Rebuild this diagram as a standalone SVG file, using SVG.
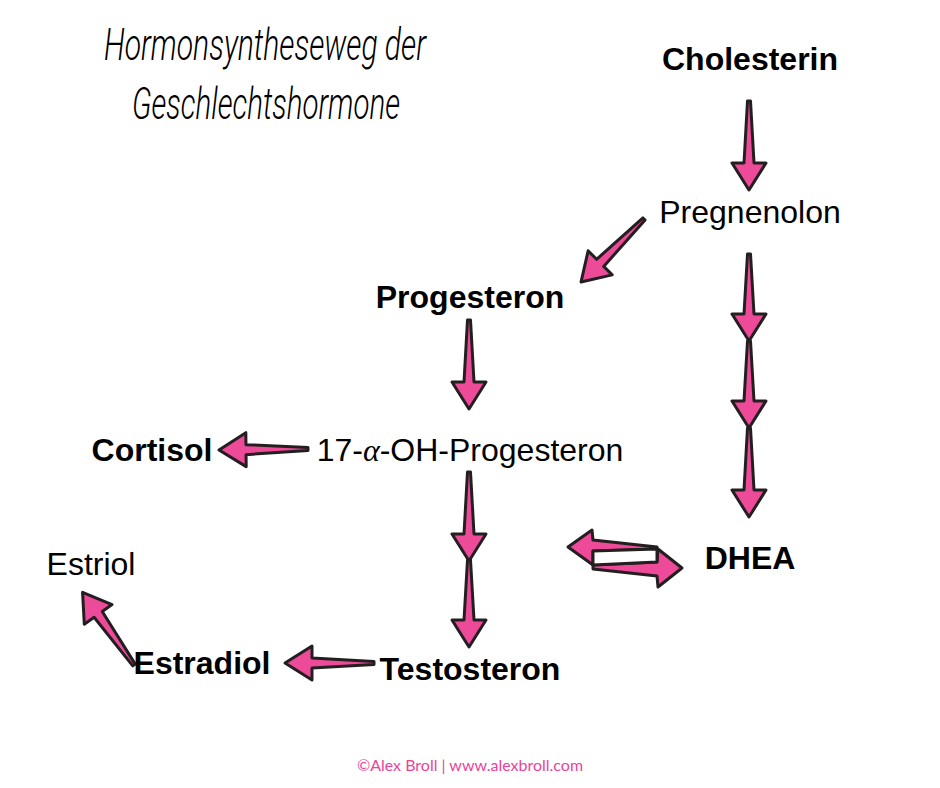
<svg xmlns="http://www.w3.org/2000/svg" width="940" height="788" viewBox="0 0 940 788">
<style>
.arr{fill:#ee4a9a;stroke:#231f20;stroke-width:3;stroke-linejoin:round;stroke-linecap:round}
.t{font-family:"Liberation Sans",Arial,sans-serif;font-size:32px;fill:#000;text-anchor:middle}
.b{font-weight:bold}
.title{font-family:Roboto,"DejaVu Sans",sans-serif;font-style:italic;font-weight:300;font-size:45px;fill:#000}
.foot{font-family:Lato,"Liberation Sans",sans-serif;font-size:16px;fill:#e8449a;text-anchor:middle}
</style>
<defs>
<path id="a89" d="M0,-1.5 L62,-5 L62,-17 L89,0 L62,17 L62,5 L0,1.5 Z"/>
<path id="a87" d="M0,-1.5 L60,-5 L60,-17 L87,0 L60,17 L60,5 L0,1.5 Z"/>
</defs>
<rect width="940" height="788" fill="#fff"/>
<g id="title">
<text class="title" x="104" y="60" textLength="322" lengthAdjust="spacingAndGlyphs">Hormonsyntheseweg der</text>
<text class="title" x="132" y="119" textLength="268" lengthAdjust="spacingAndGlyphs">Geschlechtshormone</text>
</g>
<g id="connectors">
<use href="#a89" class="arr" transform="translate(749,101) rotate(90)"/>
<use href="#a89" class="arr" transform="translate(644,219) rotate(135)"/>
<use href="#a87" class="arr" transform="translate(749,254) rotate(90)"/>
<use href="#a87" class="arr" transform="translate(749,341) rotate(90)"/>
<use href="#a89" class="arr" transform="translate(749,428) rotate(90)"/>
<use href="#a89" class="arr" transform="translate(469,320) rotate(90)"/>
<use href="#a89" class="arr" transform="translate(308,449) rotate(179.4)"/>
<use href="#a89" class="arr" transform="translate(469,472) rotate(90)"/>
<use href="#a87" class="arr" transform="translate(469,560) rotate(90)"/>
<use href="#a89" class="arr" transform="translate(374,663) rotate(180)"/>
<use href="#a89" class="arr" transform="translate(134,665) rotate(-125.3)"/>
<path class="arr" d="M568,547 L592,530 L593,540 L657,547 L657,549 L593,551 L593,565 Z"/>
<path class="arr" d="M682,568 L658,587 L657,576 L593,569 L593,565 L657,562 L658,549 Z"/>
<path class="arr" style="fill:#fff" d="M593,551 L657,549 L657,562 L593,565 Z"/>
</g>
<g id="cholesterin"><text class="t b" x="750" y="70">Cholesterin</text></g>
<g id="pregnenolon"><text class="t" x="750" y="223">Pregnenolon</text></g>
<g id="progesteron"><text class="t b" x="470" y="308">Progesteron</text></g>
<g id="ohprogesteron"><text class="t" x="470" y="461">17-<tspan font-family="'Liberation Serif',serif" font-style="italic">α</tspan>-OH-Progesteron</text></g>
<g id="cortisol"><text class="t b" x="152" y="461">Cortisol</text></g>
<g id="dhea"><text class="t b" x="750" y="569">DHEA</text></g>
<g id="estriol"><text class="t" x="91" y="575">Estriol</text></g>
<g id="estradiol"><text class="t b" x="202" y="674">Estradiol</text></g>
<g id="testosteron"><text class="t b" x="470" y="680">Testosteron</text></g>
<g id="footer"><text class="foot" x="470" y="771">©Alex Broll | www.alexbroll.com</text></g>
</svg>
